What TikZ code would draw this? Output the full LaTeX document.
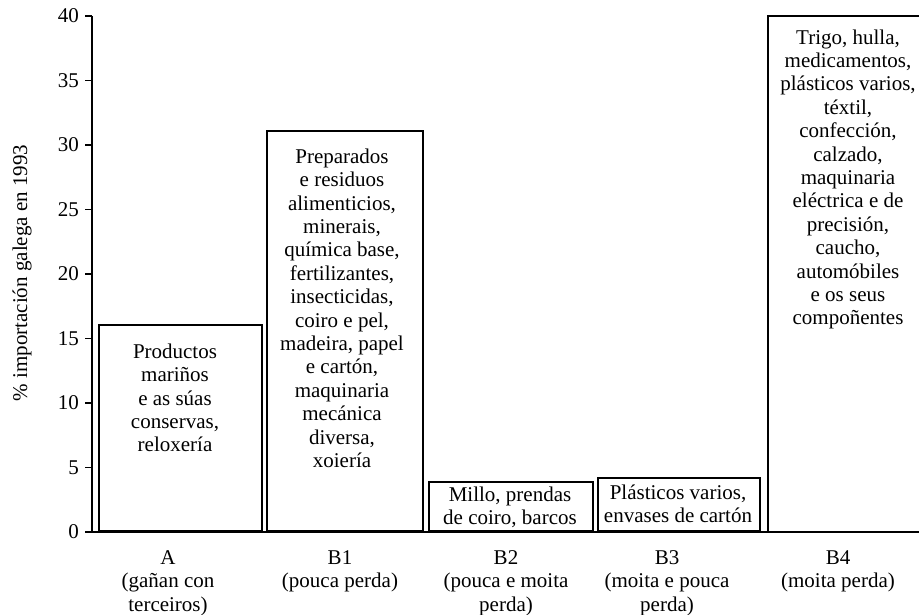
\documentclass[tikz,border=0pt]{standalone}
\usepackage{fontspec}
\setmainfont{Liberation Serif}
\newcommand{\firststrut}{\rule{0pt}{16pt}}
\begin{document}
\begin{tikzpicture}[x=1pt,y=1pt,
  ax/.style={line width=1.5pt},
  barbox/.style={draw, line width=1.8pt, inner sep=0pt, anchor=south west},
  boxtext/.style={anchor=north, inner sep=0pt, align=center, font=\fontsize{21}{23.4}\selectfont},
  ticklab/.style={anchor=east, inner sep=0pt, font=\fontsize{21}{23.4}\selectfont},
  catlab/.style={anchor=north, inner sep=0pt, align=center, font=\fontsize{21}{23.4}\selectfont}]
\useasboundingbox (0,0) rectangle (919,614);
% axes
\coordinate (o) at (92,82);
\coordinate (ytop) at (92,598);
\coordinate (xend) at (919.5,82);
\draw[ax] (ytop) -- (o) -- (xend);
\foreach \v in {0,5,...,40} {
  \draw[ax] (85,82+12.9*\v) -- (92,82+12.9*\v);
  \node[ticklab] (t\v) at (79,82+12.9*\v) {\v};
}
\node[rotate=90, font=\fontsize{21}{24}\selectfont] (ylab) at (22,341) {\% importación galega en 1993};
% bars
\node[barbox, minimum width=163, minimum height=206.4] (barA) at (98,82) {};
\node[barbox, minimum width=156, minimum height=400] (barB1) at (266,82) {};
\node[barbox, minimum width=164, minimum height=49] (barB2) at (428,82) {};
\node[barbox, minimum width=162, minimum height=53] (barB3) at (597,82) {};
\coordinate (b4a) at (768,82);
\coordinate (b4b) at (768,598);
\coordinate (b4c) at (920,598);
\draw[line width=1.8pt] (b4a) -- (b4b) -- (b4c);
% bar texts
\node[boxtext] (txA) at (175,272) {\firststrut Productos\\mariños\\e as súas\\conservas,\\reloxería};
\node[boxtext] (txB1) at (342,467) {\firststrut Preparados\\e residuos\\alimenticios,\\minerais,\\química base,\\fertilizantes,\\insecticidas,\\coiro e pel,\\madeira, papel\\e cartón,\\maquinaria\\mecánica\\diversa,\\xoiería};
\node[boxtext] (txB2) at (510,129) {\firststrut Millo, prendas\\de coiro, barcos};
\node[boxtext] (txB3) at (678,131) {\firststrut Plásticos varios,\\envases de cartón};
\node[boxtext] (txB4) at (848,586) {\firststrut Trigo, hulla,\\medicamentos,\\plásticos varios,\\téxtil,\\confección,\\calzado,\\maquinaria\\eléctrica e de\\precisión,\\caucho,\\automóbiles\\e os seus\\compoñentes};
% category labels
\node[catlab] (cA) at (168,66) {\firststrut A\\(gañan con\\terceiros)};
\node[catlab] (cB1) at (340,66) {\firststrut B1\\(pouca perda)};
\node[catlab] (cB2) at (506,66) {\firststrut B2\\(pouca e moita\\perda)};
\node[catlab] (cB3) at (667,66) {\firststrut B3\\(moita e pouca\\perda)};
\node[catlab] (cB4) at (838,66) {\firststrut B4\\(moita perda)};
\end{tikzpicture}
\end{document}
